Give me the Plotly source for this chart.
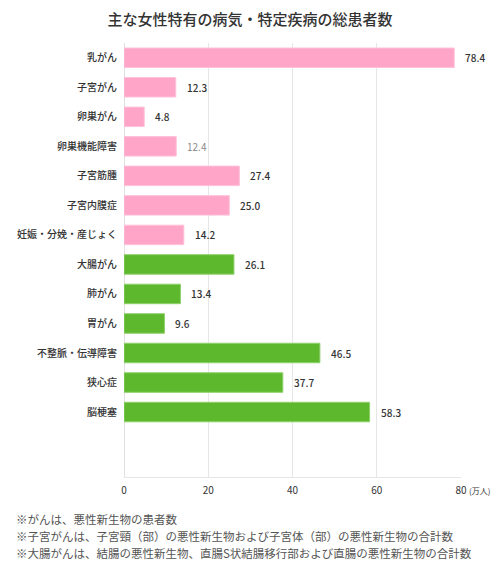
import plotly.graph_objects as go

categories = ["乳がん", "子宮がん", "卵巣がん", "卵巣機能障害", "子宮筋腫", "子宮内膜症",
              "妊娠・分娩・産じょく", "大腸がん", "肺がん", "胃がん", "不整脈・伝導障害", "狭心症", "脳梗塞"]
values = [78.4, 12.3, 4.8, 12.4, 27.4, 25.0, 14.2, 26.1, 13.4, 9.6, 46.5, 37.7, 58.3]
groups = ["f", "f", "f", "f", "f", "f", "f", "g", "g", "g", "g", "g", "g"]
tick_vals = [0, 20, 40, 60, 80]
unit = "(万人)"
title = "主な女性特有の病気・特定疾病の総患者数"
notes = ["※がんは、悪性新生物の患者数",
         "※子宮がんは、子宮頸（部）の悪性新生物および子宮体（部）の悪性新生物の合計数",
         "※大腸がんは、結腸の悪性新生物、直腸S状結腸移行部および直腸の悪性新生物の合計数"]

FONT = "Noto Sans CJK JP"
fill = {"f": "#FFA6C8", "g": "#5DB82E"}
edge = {"f": "#FFC2DA", "g": "#8ED06A"}

# page body adds an 8px offset; the figure is sized to end at the window edge
W, H = 492, 559
L, R, T, B = 116, 39, 35, 90
PW, PH = W - L - R, H - T - B

fig = go.Figure(go.Bar(
    x=values, y=categories, orientation="h",
    width=0.66,
    marker=dict(color=[fill[g] for g in groups],
                line=dict(color=[edge[g] for g in groups], width=1)),
    hoverinfo="skip",
))

for c, v in zip(categories, values):
    special = c == "卵巣機能障害"
    fig.add_annotation(x=v, y=c, xref="x", yref="y", text=f"{v:.1f}",
                       xanchor="left", yanchor="middle", xshift=9, showarrow=False,
                       font=dict(family=FONT, size=10,
                                 color="#8A8A8A" if special else "#333333",
                                 weight=400 if special else 500))

fig.update_layout(
    width=W, height=H,
    margin=dict(l=L, r=R, t=T, b=B, autoexpand=False),
    paper_bgcolor="white", plot_bgcolor="white",
    font=dict(family=FONT, size=10, color="#333333"),
    title=dict(text=title, x=(250 - 8) / W, xanchor="center", y=1 - 12 / H, yanchor="middle",
               font=dict(family=FONT, size=15, color="#333333", weight=500)),
    showlegend=False,
)
fig.update_xaxes(range=[0, 80], tickvals=tick_vals, ticktext=[str(t) for t in tick_vals],
                 showgrid=True, gridcolor="#E6E6E6", gridwidth=1,
                 zeroline=True, zerolinecolor="#E0E0E0", zerolinewidth=1,
                 showline=True, linecolor="#E6E6E6", linewidth=1,
                 ticks="", ticklabelstandoff=4,
                 tickfont=dict(family=FONT, size=10, color="#333333"), fixedrange=True)
fig.update_yaxes(type="category", categoryorder="array", categoryarray=categories,
                 range=[14.2, -0.5], showgrid=False, zeroline=False, showline=False,
                 ticks="", ticklabelstandoff=6,
                 tickfont=dict(family=FONT, size=10, color="#333333", weight=500), fixedrange=True)

fig.add_annotation(text=unit, x=tick_vals[-1], y=-13 / PH, xref="x", yref="paper",
                   xanchor="left", yanchor="middle", xshift=6, showarrow=False,
                   font=dict(family=FONT, size=8, color="#333333"))

for i, n in enumerate(notes):
    fig.add_annotation(text=n, xref="paper", yref="paper",
                       x=-(L - 6) / PW, y=-(42 + i * 17) / PH,
                       xanchor="left", yanchor="middle", showarrow=False,
                       font=dict(family=FONT, size=11.5, color="#555555"))

fig.write_html("out.html")
